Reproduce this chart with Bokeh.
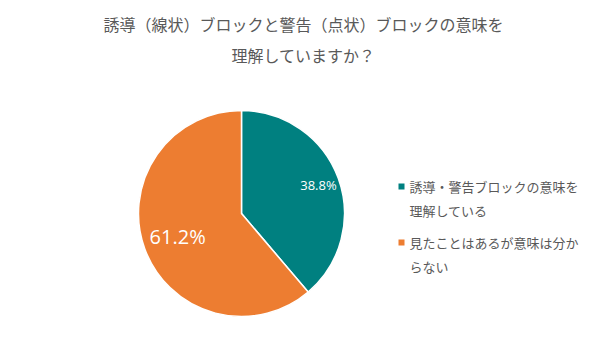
import math
from bokeh.plotting import figure
from bokeh.models import Range1d, ColumnDataSource
from bokeh.core.properties import value
from bokeh.embed import file_html
from bokeh.resources import INLINE

title_lines = ["誘導（線状）ブロックと警告（点状）ブロックの意味を", "理解していますか？"]
categories = ["誘導・警告ブロックの意味を理解している", "見たことはあるが意味は分からない"]
legend_lines = [["誘導・警告ブロックの意味を", "理解している"], ["見たことはあるが意味は分か", "らない"]]
values = [38.8, 61.2]
colors = ["#008080", "#ED7D31"]

W, H = 600, 353
FONT = "Noto Sans CJK JP"

p = figure(width=W, height=H, x_range=Range1d(0, W), y_range=Range1d(0, H),
           output_backend="svg", toolbar_location=None, min_border=0)
p.axis.visible = False
p.grid.visible = False
p.outline_line_color = None
p.background_fill_color = "white"

cx, cy, r = 241, H - 213, 103
total = sum(values)
starts, ends = [], []
a = math.pi / 2
for v in values:
    ang = 2 * math.pi * v / total
    starts.append(a - ang)
    ends.append(a)
    a -= ang
src = ColumnDataSource(dict(start=starts, end=ends, color=colors))
p.wedge(x=cx, y=cy, radius=r, start_angle="start", end_angle="end",
        fill_color="color", line_color="white", line_width=1.5, source=src)

# percent labels
label_r = [82, 68]
label_size = ["13px", "20px"]
for i, v in enumerate(values):
    mid = (starts[i] + ends[i]) / 2
    lx = cx + label_r[i] * math.cos(mid)
    ly = cy + label_r[i] * math.sin(mid)
    p.text(x=[lx], y=[ly], text=[f"{v:.1f}%"], text_color="white",
           text_font=value("Open Sans"),
           text_font_size=label_size[i],
           text_align="center", text_baseline="middle")

# title
for j, t in enumerate(title_lines):
    p.text(x=[303], y=[H - 23 - j * 31], text=[t], text_color="#595959",
           text_font=value(FONT), text_font_size="16px",
           text_align="center", text_baseline="middle")

# legend
ly0 = [186, 242]
for i, lines in enumerate(legend_lines):
    p.scatter(x=[401], y=[H - ly0[i]], marker="square", size=6,
              fill_color=colors[i], line_color=None)
    for k, t in enumerate(lines):
        p.text(x=[409], y=[H - ly0[i] - k * 24], text=[t], text_color="#595959",
               text_font=value(FONT), text_font_size="13px",
               text_align="left", text_baseline="middle")

open("out.html", "w").write(file_html(p, INLINE))
